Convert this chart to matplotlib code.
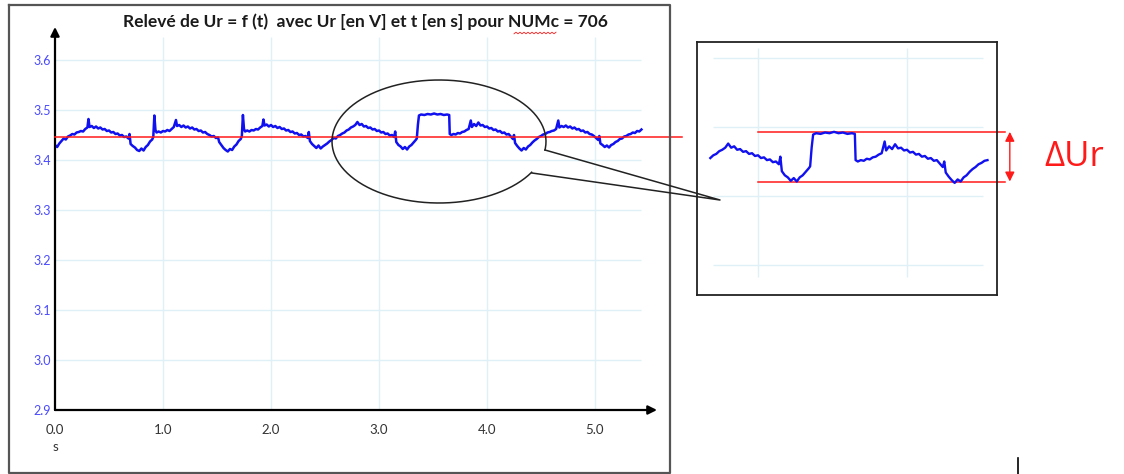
import numpy as np
import matplotlib.pyplot as plt

# relevé Ur = f(t) (t en s, Ur en V)
t = [0.00, 0.02, 0.04, 0.06, 0.08, 0.10, 0.12, 0.14, 0.16, 0.18,
     0.20, 0.22, 0.24, 0.26, 0.28, 0.30, 0.31, 0.32, 0.34, 0.36,
     0.38, 0.40, 0.42, 0.44, 0.46, 0.48, 0.50, 0.52, 0.54, 0.56,
     0.58, 0.60, 0.62, 0.64, 0.66, 0.68, 0.69, 0.70, 0.72, 0.74,
     0.76, 0.78, 0.80, 0.82, 0.84, 0.86, 0.88, 0.90, 0.91, 0.92,
     0.93, 0.94, 0.96, 0.98, 1.00, 1.02, 1.04, 1.06, 1.08, 1.10,
     1.12, 1.13, 1.15, 1.17, 1.19, 1.21, 1.23, 1.25, 1.27, 1.29,
     1.31, 1.33, 1.35, 1.37, 1.39, 1.41, 1.43, 1.45, 1.47, 1.49,
     1.51, 1.52, 1.54, 1.56, 1.58, 1.60, 1.62, 1.64, 1.66, 1.68,
     1.70, 1.72, 1.73, 1.74, 1.75, 1.76, 1.78, 1.80, 1.82, 1.84,
     1.86, 1.88, 1.90, 1.92, 1.93, 1.94, 1.96, 1.98, 2.00, 2.02,
     2.04, 2.06, 2.08, 2.10, 2.12, 2.14, 2.16, 2.18, 2.20, 2.22,
     2.24, 2.26, 2.28, 2.30, 2.32, 2.34, 2.35, 2.36, 2.38, 2.40,
     2.42, 2.44, 2.46, 2.48, 2.50, 2.52, 2.54, 2.56, 2.58, 2.60,
     2.62, 2.64, 2.66, 2.68, 2.70, 2.72, 2.74, 2.76, 2.78, 2.80,
     2.82, 2.84, 2.86, 2.88, 2.90, 2.92, 2.94, 2.96, 2.98, 3.00,
     3.02, 3.04, 3.06, 3.08, 3.10, 3.12, 3.14, 3.15, 3.16, 3.18,
     3.20, 3.22, 3.24, 3.26, 3.28, 3.30, 3.32, 3.34, 3.35, 3.36,
     3.37, 3.39, 3.42, 3.45, 3.48, 3.51, 3.54, 3.57, 3.60, 3.63,
     3.65, 3.655, 3.67, 3.69, 3.71, 3.73, 3.75, 3.77, 3.79, 3.81,
     3.83, 3.85, 3.86, 3.88, 3.90, 3.92, 3.94, 3.96, 3.98, 4.00,
     4.02, 4.04, 4.06, 4.08, 4.10, 4.12, 4.14, 4.16, 4.18, 4.20,
     4.22, 4.24, 4.25, 4.26, 4.28, 4.30, 4.32, 4.34, 4.36, 4.38,
     4.40, 4.42, 4.44, 4.46, 4.48, 4.50, 4.52, 4.54, 4.56, 4.58,
     4.60, 4.62, 4.64, 4.66, 4.67, 4.69, 4.71, 4.73, 4.75, 4.77,
     4.79, 4.81, 4.83, 4.85, 4.87, 4.89, 4.91, 4.93, 4.95, 4.97,
     4.99, 5.01, 5.03, 5.04, 5.05, 5.07, 5.09, 5.11, 5.13, 5.15,
     5.17, 5.19, 5.21, 5.23, 5.25, 5.27, 5.29, 5.31, 5.33, 5.35,
     5.37, 5.39, 5.41, 5.43]
ur = [3.430, 3.426, 3.433, 3.438, 3.443, 3.441, 3.447, 3.449, 3.452, 3.451,
      3.455, 3.456, 3.458, 3.457, 3.462, 3.465, 3.482, 3.466, 3.468, 3.464,
      3.467, 3.463, 3.465, 3.461, 3.462, 3.458, 3.459, 3.455, 3.456, 3.452,
      3.453, 3.449, 3.450, 3.446, 3.447, 3.443, 3.452, 3.432, 3.428, 3.425,
      3.420, 3.418, 3.423, 3.419, 3.426, 3.430, 3.437, 3.441, 3.446, 3.489,
      3.460, 3.455, 3.457, 3.455, 3.458, 3.457, 3.460, 3.458, 3.462, 3.466,
      3.480, 3.468, 3.470, 3.466, 3.469, 3.465, 3.467, 3.463, 3.465, 3.461,
      3.462, 3.458, 3.459, 3.455, 3.456, 3.452, 3.450, 3.447, 3.448, 3.444,
      3.445, 3.436, 3.430, 3.424, 3.420, 3.417, 3.422, 3.420, 3.427, 3.431,
      3.438, 3.442, 3.448, 3.490, 3.462, 3.457, 3.459, 3.457, 3.460, 3.459,
      3.462, 3.461, 3.465, 3.468, 3.481, 3.469, 3.471, 3.467, 3.470, 3.466,
      3.468, 3.464, 3.466, 3.462, 3.463, 3.459, 3.460, 3.456, 3.457, 3.453,
      3.454, 3.450, 3.451, 3.447, 3.448, 3.444, 3.456, 3.438, 3.432, 3.428,
      3.424, 3.429, 3.423, 3.427, 3.430, 3.433, 3.437, 3.440, 3.444, 3.443,
      3.448, 3.450, 3.453, 3.455, 3.459, 3.461, 3.465, 3.467, 3.470, 3.476,
      3.470, 3.472, 3.467, 3.468, 3.464, 3.465, 3.461, 3.462, 3.458, 3.459,
      3.455, 3.456, 3.452, 3.453, 3.449, 3.450, 3.446, 3.457, 3.436, 3.430,
      3.427, 3.422, 3.426, 3.421, 3.427, 3.430, 3.435, 3.440, 3.443, 3.470,
      3.489, 3.491, 3.490, 3.492, 3.491, 3.493, 3.491, 3.492, 3.490, 3.491,
      3.490, 3.452, 3.450, 3.452, 3.451, 3.454, 3.453, 3.456, 3.457, 3.460,
      3.462, 3.479, 3.466, 3.472, 3.468, 3.475, 3.469, 3.470, 3.466, 3.467,
      3.463, 3.464, 3.460, 3.461, 3.457, 3.458, 3.454, 3.455, 3.451, 3.452,
      3.447, 3.442, 3.450, 3.434, 3.428, 3.423, 3.419, 3.424, 3.421, 3.427,
      3.430, 3.435, 3.439, 3.442, 3.446, 3.448, 3.451, 3.452, 3.455, 3.456,
      3.458, 3.459, 3.462, 3.479, 3.465, 3.468, 3.466, 3.469, 3.465, 3.467,
      3.463, 3.465, 3.461, 3.462, 3.458, 3.459, 3.455, 3.456, 3.452, 3.451,
      3.448, 3.444, 3.440, 3.448, 3.433, 3.430, 3.426, 3.429, 3.425, 3.430,
      3.432, 3.436, 3.438, 3.442, 3.443, 3.447, 3.448, 3.451, 3.452, 3.455,
      3.454, 3.458, 3.457, 3.461]

ur_ref = 3.445          # trait rouge horizontal
ur_max = 3.493          # bornes du zoom (Delta Ur)
ur_min = 3.421
zoom_t = (2.67, 4.55)   # portion entourée

x_ticks = [0, 1, 2, 3, 4, 5]
x_labels = ['0.0', '1.0', '2.0', '3.0', '4.0', '5.0']
y_ticks = [2.9, 3.0, 3.1, 3.2, 3.3, 3.4, 3.5, 3.6]
y_labels = ['2.9', '3.0', '3.1', '3.2', '3.3', '3.4', '3.5', '3.6']

title = 'Relevé de Ur = f (t)  avec Ur [en V] et t [en s] pour NUMc = 706'

BLUE = '#1010f0'
RED = '#ff1a1a'
GRID = '#dff0f6'

W, H = 1124, 474
fig = plt.figure(figsize=(W / 100, H / 100), dpi=100)
plt.rcParams['font.family'] = ['Lato', 'DejaVu Sans']


def px_axes(x0, y0, x1, y1):
    # position en pixels (origine en haut à gauche)
    return fig.add_axes([x0 / W, 1 - y1 / H, (x1 - x0) / W, (y1 - y0) / H])


# ---- graphe principal ----
ax = px_axes(55, 27, 657, 410)
ax.set_xlim(0, 602 / 108.0)
ax.set_ylim(2.9, 2.9 + 383 / 500.0)
for s in ax.spines.values():
    s.set_visible(False)
ax.hlines(y_ticks[1:], 0, 5.43, color=GRID, lw=1, zorder=0)
ax.vlines(x_ticks[1:], 2.9, 3.646, color=GRID, lw=1, zorder=0)
ax.plot(t, ur, color=BLUE, lw=1.8, zorder=3)
ax.plot([0, 5.81], [ur_ref, ur_ref], color=RED, lw=1.1, clip_on=False, zorder=4)

ax.set_xticks(x_ticks, x_labels)
ax.set_yticks(y_ticks, y_labels)
ax.tick_params(axis='x', length=0, pad=10, labelsize=9.5, labelcolor='#333333')
ax.tick_params(axis='y', length=0, pad=3, labelsize=9, labelcolor='#4a4aff')
ax.text(0, -0.097, 's', transform=ax.transAxes, ha='center', va='center',
        fontsize=9.5, color='#333333')

ax.annotate('', xy=(1, 0), xytext=(0, 0), xycoords='axes fraction',
            arrowprops=dict(arrowstyle='-|>', color='black', lw=1.6, mutation_scale=13,
                            shrinkA=0, shrinkB=0))
ax.annotate('', xy=(0, 1), xytext=(0, 0), xycoords='axes fraction',
            arrowprops=dict(arrowstyle='-|>', color='black', lw=1.6, mutation_scale=13,
                            shrinkA=0, shrinkB=0))

# ---- zoom ----
az = px_axes(697, 42, 997, 295)
az.set_xlim(3 - 61 / 149.0, 4 + 90 / 149.0)
az.set_ylim(3.5 - 168 / 690.0, 3.5 + 85 / 690.0)
az.set_xticks([])
az.set_yticks([])
for s in az.spines.values():
    s.set_color('#222222')
    s.set_linewidth(1.3)
az.hlines([3.3, 3.4, 3.5, 3.6], 2.70, 4.51, color=GRID, lw=1, zorder=0)
az.vlines([3, 4], 3.283, 3.614, color=GRID, lw=1, zorder=0)
tz = [a for a in t if zoom_t[0] <= a <= zoom_t[1]]
uz = [b for a, b in zip(t, ur) if zoom_t[0] <= a <= zoom_t[1]]
az.plot(tz, uz, color=BLUE, lw=1.7, zorder=3)
az.plot([3.0, 4.66], [ur_max, ur_max], color=RED, lw=1.1, clip_on=False)
az.plot([3.0, 4.66], [ur_min, ur_min], color=RED, lw=1.1, clip_on=False)
az.annotate('', xy=(4.69, ur_max), xytext=(4.69, ur_min),
            arrowprops=dict(arrowstyle='<|-|>', color=RED, lw=1, mutation_scale=14,
                            shrinkA=0, shrinkB=0), annotation_clip=False)
az.text(4.92, (ur_max + ur_min) / 2, 'ΔUr', color=RED, fontsize=25,
        ha='left', va='center', family=['Open Sans', 'DejaVu Sans'], clip_on=False)

# ---- décor (cadre, ellipse, renvoi) en pixels ----
ov = fig.add_axes([0, 0, 1, 1], zorder=10)
ov.set_xlim(0, W)
ov.set_ylim(H, 0)
ov.axis('off')
ov.patch.set_alpha(0)
ov.plot([8.5, 670, 670, 8.5, 8.5], [5, 5, 472.5, 472.5, 5], color='#555555', lw=1.6)
th = np.deg2rad(np.linspace(30, 368, 200))
ov.plot(439 + 107 * np.cos(th), 141.5 + 61.5 * np.sin(th), color='#222222', lw=1.1)
ov.plot([545, 720, 532], [150, 200, 173], color='#222222', lw=1.1)
ov.plot([1018, 1018], [458, 474], color='black', lw=1.2)
ov.text(365.5, 22, title, ha='center', va='center', fontsize=12.5,
        fontweight='bold', color='#1a1a1a')
# soulignement ondulé sous NUMc
xw = np.linspace(514, 556, 22)
ov.plot(xw, 33 + 0.8 * (-1) ** np.arange(22), color=RED, lw=0.6)

fig.savefig('out.png', dpi=100)
